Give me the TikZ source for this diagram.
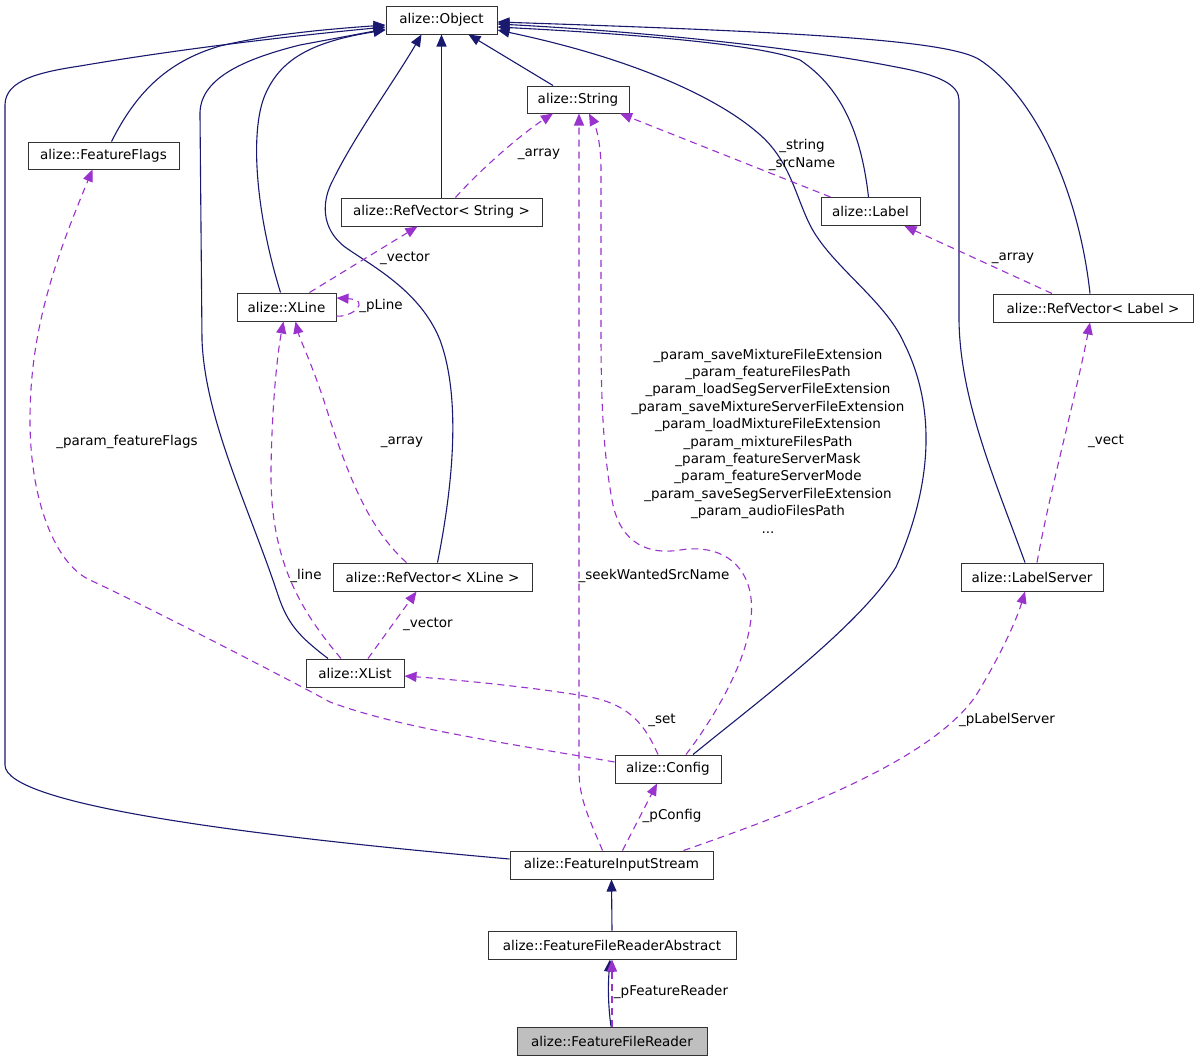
\documentclass[tikz,border=0pt]{standalone}
\usepackage{fontspec}
\setmainfont{DejaVu Sans}
\usetikzlibrary{arrows.meta}
\definecolor{navyc}{RGB}{25,25,112}
\definecolor{orchidc}{RGB}{154,50,205}
\definecolor{boxgray}{RGB}{191,191,191}
\begin{document}
\begin{tikzpicture}[x=1pt,y=-1pt,
  every node/.style={font=\fontsize{13.5}{17.4}\selectfont},
  cls/.style={draw=black!80, line width=1pt, fill=white, inner sep=0pt, minimum height=28pt},
  inh/.style={draw=navyc, line width=1.1pt, -{Triangle[length=12pt,width=10pt]}},
  use/.style={draw=orchidc, line width=1.1pt, dash pattern=on 7pt off 5pt, -{Triangle[length=12pt,width=10pt]}},
  lbl/.style={inner sep=0pt, align=center}]
\useasboundingbox[fill=white] (0,0) rectangle (1197,1061);

% classes
\node[cls, minimum width=111pt] (obj)   at (441.5,20)  {alize::Object};
\node[cls, minimum width=102pt, minimum height=27pt] (str) at (578,99.5) {alize::String};
\node[cls, minimum width=151pt, minimum height=27pt] (ff)  at (103.5,155.5) {alize::FeatureFlags};
\node[cls, minimum width=201pt] (rvs)   at (441.5,212) {alize::RefVector< String >};
\node[cls, minimum width=99pt]  (lab)   at (870.5,211.5) {alize::Label};
\node[cls, minimum width=99pt]  (xline) at (286.5,307) {alize::XLine};
\node[cls, minimum width=200pt] (rvl)   at (1093,308) {alize::RefVector< Label >};
\node[cls, minimum width=199pt] (rvx)   at (432.5,577) {alize::RefVector< XLine >};
\node[cls, minimum width=142pt] (ls)    at (1032,577) {alize::LabelServer};
\node[cls, minimum width=98pt]  (xlist) at (355,673) {alize::XList};
\node[cls, minimum width=106pt] (cfg)   at (668,769) {alize::Config};
\node[cls, minimum width=203pt] (fis)   at (611.5,865) {alize::FeatureInputStream};
\node[cls, minimum width=248pt] (ffra)  at (612,945) {alize::FeatureFileReaderAbstract};
\node[cls, minimum width=190pt, fill=boxgray] (ffr) at (612,1041) {alize::FeatureFileReader};

% inheritance (solid)
\draw[inh] ([yshift=6]fis.west) .. controls (250,836) and (5,805) .. (5,765) -- (5,105)
  .. controls (5,80) and (40,72) .. (80,66) .. controls (150,54) and (250,40) .. ([yshift=-7]obj.west);
\draw[inh] ([xshift=8]ff.north) .. controls (135,95) and (165,62) .. (220,46)
  .. controls (270,34) and (330,29) .. ([yshift=-5]obj.west);
\draw[inh] ([xshift=-27]xlist.north) .. controls (300,637) and (288,625) .. (278,595)
  .. controls (250,510) and (205,420) .. (202,340) -- (200,115)
  .. controls (199,80) and (240,60) .. (300,45) -- ([yshift=-9]obj.west);
\draw[inh] ([xshift=-6]xline.north) .. controls (255,210) and (250,130) .. (265,95)
  .. controls (280,60) and (310,42) .. ([yshift=-10]obj.west);
\draw[inh] ([xshift=5]rvx.north) .. controls (452,490) and (462,400) .. (440,340)
  .. controls (420,290) and (370,265) .. (345,247) .. controls (320,228) and (322,200) .. (333,180)
  .. controls (355,135) and (395,80) .. ([xshift=-20]obj.south);
\draw[inh] (rvs.north) -- (obj.south);
\draw[inh] ([xshift=-25]str.north) -- ([xshift=27]obj.south);
\draw[inh] ([xshift=25]cfg.north) .. controls (760,700) and (860,625) .. (896,567)
  .. controls (928,495) and (940,415) .. (904,343) .. controls (885,300) and (830,265) .. (810,225)
  .. controls (795,195) and (790,160) .. (758,133) .. controls (720,100) and (640,60) .. ([yshift=-10]obj.east);
\draw[inh] ([xshift=-2]lab.north) .. controls (862,140) and (845,90) .. (800,60)
  .. controls (760,45) and (650,35) .. ([yshift=-7]obj.east);
\draw[inh] ([xshift=-7]ls.north) .. controls (995,480) and (960,400) .. (959,320) -- (959,100)
  .. controls (959,85) and (940,75) .. (896,67) .. controls (800,48) and (650,32) .. ([yshift=-4]obj.east);
\draw[inh] ([xshift=-3]rvl.north) .. controls (1080,200) and (1040,100) .. (980,60)
  .. controls (950,40) and (800,32) .. ([yshift=-2]obj.east);
\draw[inh] (ffra.north) -- (fis.south);
\draw[inh] ([xshift=-1]ffr.north) .. controls (608,1005) and (608,985) .. ([xshift=-2]ffra.south);

% usage (dashed)
\draw[use] ([xshift=14]rvs.north) .. controls (480,170) and (520,135) .. ([xshift=-25]str.south);
\draw[use] ([xshift=-40]lab.north) -- ([xshift=42]str.south);
\draw[use] ([xshift=-9]fis.north) .. controls (590,820) and (579,800) .. (579,770) -- ([xshift=1]str.south);
\draw[use] ([xshift=18]cfg.north) .. controls (720,710) and (760,640) .. (750,592)
  .. controls (742,555) and (710,545) .. (680,550) .. controls (650,555) and (620,545) .. (612,500)
  .. controls (603,450) and (601,400) .. (601,330) -- (601,170)
  .. controls (601,140) and (595,125) .. ([xshift=11]str.south);
\draw[use] ([xshift=-10]cfg.north) .. controls (645,725) and (630,705) .. (590,697)
  .. controls (540,688) and (460,680) .. ([yshift=-3]xlist.east);
\draw[use] ([yshift=7]cfg.west) .. controls (500,742) and (400,728) .. (330,702)
  .. controls (290,680) and (150,608) .. (90,580) .. controls (55,564) and (30,500) .. (30,420)
  .. controls (30,330) and (55,260) .. ([xshift=-11]ff.south);
\draw[use] ([xshift=23]xline.north) -- ([xshift=-24]rvs.south);
\draw[use] ([yshift=-9]xline.east) .. controls (352,318) and (372,300) .. ([yshift=9]xline.east);
\draw[use] ([xshift=-14]xlist.north) .. controls (300,610) and (270,560) .. (271,470)
  .. controls (272,400) and (278,350) .. ([xshift=-3]xline.south);
\draw[use] ([xshift=-26]rvx.north) .. controls (370,530) and (350,480) .. (330,420)
  .. controls (315,370) and (300,340) .. ([xshift=9]xline.south);
\draw[use] ([xshift=13]xlist.north) -- ([xshift=-16]rvx.south);
\draw[use] ([xshift=-41]rvl.north) -- ([xshift=34]lab.south);
\draw[use] ([xshift=5]ls.north) .. controls (1050,490) and (1075,400) .. ([xshift=-3]rvl.south);
\draw[use] ([xshift=72]fis.north) .. controls (800,810) and (930,760) .. (975,697)
  .. controls (995,665) and (1015,625) .. ([xshift=-7]ls.south);
\draw[use] ([xshift=11]fis.north) -- ([xshift=-11]cfg.south);
\draw[use] (ffr.north) -- (ffra.south);

% edge labels
\node[lbl] (l1)  at (539,154) {\_array};
\node[lbl] (l2)  at (802,155) {\_string\\\_srcName};
\node[lbl] (l3)  at (405,258) {\_vector};
\node[lbl] (l4)  at (381,306) {\_pLine};
\node[lbl] (l5)  at (127,442) {\_param\_featureFlags};
\node[lbl] (l6)  at (402,442) {\_array};
\node[lbl] (l7)  at (306,576) {\_line};
\node[lbl] (l8)  at (428,624) {\_vector};
\node[lbl] (l9)  at (654,576) {\_seekWantedSrcName};
\node[lbl] (l10) at (768,441) {\_param\_saveMixtureFileExtension\\\_param\_featureFilesPath\\\_param\_loadSegServerFileExtension\\\_param\_saveMixtureServerFileExtension\\\_param\_loadMixtureFileExtension\\\_param\_mixtureFilesPath\\\_param\_featureServerMask\\\_param\_featureServerMode\\\_param\_saveSegServerFileExtension\\\_param\_audioFilesPath\\...};
\node[lbl] (l11) at (1106,441) {\_vect};
\node[lbl] (l12) at (1013,258) {\_array};
\node[lbl] (l13) at (662,720) {\_set};
\node[lbl] (l14) at (672,816) {\_pConfig};
\node[lbl] (l15) at (1007,720) {\_pLabelServer};
\node[lbl] (l16) at (671,992) {\_pFeatureReader};
\end{tikzpicture}
\end{document}
